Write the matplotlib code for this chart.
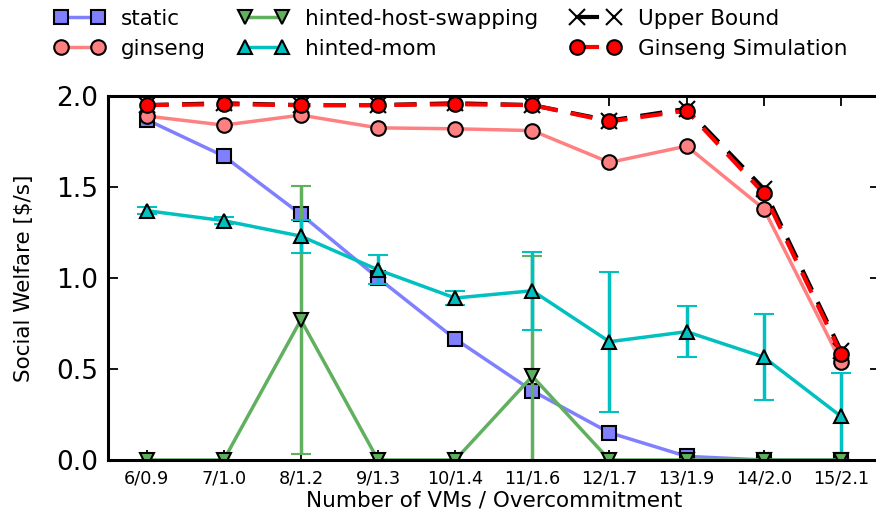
import numpy as np
import matplotlib
matplotlib.use("Agg")
import matplotlib.pyplot as plt

labels = ["6/0.9", "7/1.0", "8/1.2", "9/1.3", "10/1.4",
          "11/1.6", "12/1.7", "13/1.9", "14/2.0", "15/2.1"]

static = [1.87, 1.67, 1.35, 1.0, 0.665, 0.38, 0.15, 0.02, 0.0, 0.0]
ginseng = [1.89, 1.84, 1.895, 1.825, 1.82, 1.81, 1.635, 1.725, 1.38, 0.54]
host_swap = [0.0, 0.0, 0.77, 0.0, 0.0, 0.46, 0.0, 0.0, 0.0, 0.0]
host_swap_err = [0.0, 0.0, 0.735, 0.0, 0.0, 0.66, 0.0, 0.0, 0.0, 0.0]
mom = [1.37, 1.315, 1.23, 1.045, 0.89, 0.93, 0.65, 0.705, 0.565, 0.24]
mom_err = [0.02, 0.02, 0.09, 0.08, 0.04, 0.215, 0.385, 0.14, 0.235, 0.24]
upper = [1.95, 1.96, 1.95, 1.95, 1.96, 1.95, 1.865, 1.93, 1.49, 0.60]
sim = [1.95, 1.955, 1.95, 1.95, 1.955, 1.95, 1.86, 1.92, 1.465, 0.585]

x = np.arange(len(labels))

fig = plt.figure(figsize=(8.76, 5.19), dpi=100)
ax = fig.add_axes([0.1233, 0.1137, 0.8807, 0.7013])

lw = 2.5
ms = 10.5
h_static, = ax.plot(x, static, color='#8080ff', lw=lw, marker='s', ms=ms,
                    mec='k', mew=1.5, label='static')
h_gin, = ax.plot(x, ginseng, color='#ff8080', lw=lw, marker='o', ms=ms,
                 mec='k', mew=1.5, label='ginseng')
eb_swap = ax.errorbar(x, host_swap, yerr=host_swap_err, color='#60b060',
                      lw=lw, marker='v', ms=ms, mec='k', mew=1.5, capsize=7,
                      capthick=2.5, elinewidth=2.5)
eb_mom = ax.errorbar(x, mom, yerr=mom_err, color='#00c0c0', lw=lw,
                     marker='^', ms=ms, mec='k', mew=1.5, capsize=7,
                     capthick=2.5, elinewidth=2.5)
h_up, = ax.plot(x, upper, color='k', lw=3, ls=(0, (5.3, 3.2)), marker='x',
                ms=12, mew=1.5)
h_sim, = ax.plot(x, sim, color='r', lw=3, ls=(0, (5.3, 3.2)), marker='o',
                 ms=ms, mec='k', mew=1.5)

ax.set_xlim(-0.5, 9.5)
ax.set_ylim(0, 2.0)
ax.set_xticks(x)
ax.set_xticklabels(labels, fontsize=12.7)
ax.set_yticks([0, 0.5, 1.0, 1.5, 2.0])
ax.set_yticklabels(["0.0", "0.5", "1.0", "1.5", "2.0"], fontsize=19)
ax.tick_params(direction='in', top=True, right=True, length=7, width=1.3,
               pad=7)
for s in ax.spines.values():
    s.set_linewidth(2.2)

ax.set_xlabel("Number of VMs / Overcommitment", fontsize=15.5, labelpad=2)
ax.set_ylabel("Social Welfare [$/s]", fontsize=15.5, labelpad=16)

handles = [h_static, h_gin, eb_swap[0], eb_mom[0], h_up, h_sim]
names = ['static', 'ginseng', 'hinted-host-swapping', 'hinted-mom',
         'Upper Bound', 'Ginseng Simulation']
fig.legend(handles, names, loc='upper left', bbox_to_anchor=(0.045, 1.012),
           ncol=3, frameon=False, fontsize=15.5, numpoints=2,
           handlelength=2.3, columnspacing=1.5, labelspacing=0.45,
           borderpad=0.2)

fig.savefig("out.png", dpi=100)
